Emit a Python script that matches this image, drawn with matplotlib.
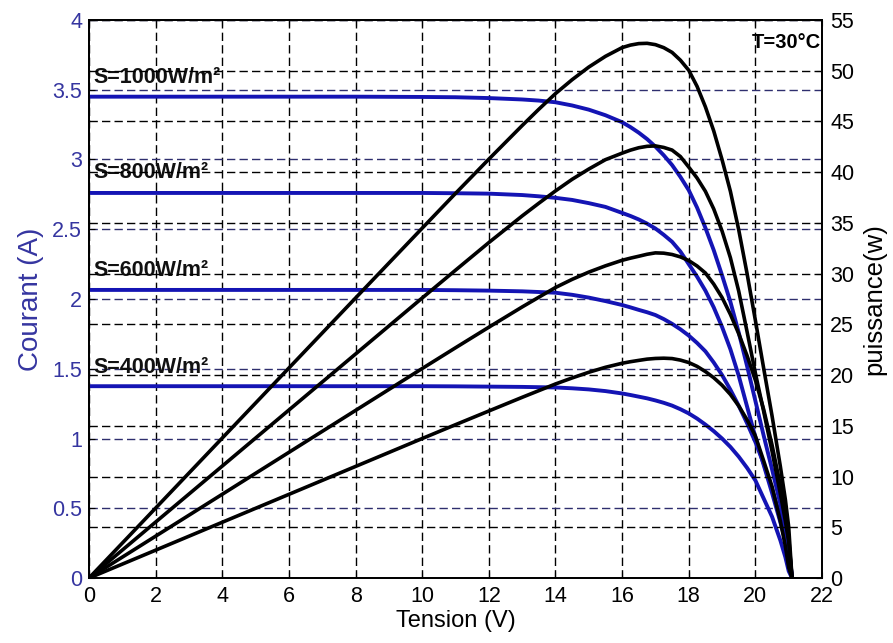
import numpy as np
import matplotlib
matplotlib.use("Agg")
import matplotlib.pyplot as plt

plt.rcParams['font.family'] = ['Liberation Sans', 'DejaVu Sans']

# tension (V), common to every curve
tension = [0, 2, 4, 6, 8, 10, 11, 12, 13, 13.5, 14, 14.5, 15, 15.5, 16,
           16.25, 16.5, 16.75, 17, 17.25, 17.5, 17.75, 18, 18.25, 18.5, 18.75,
           19, 19.25, 19.5, 19.75, 20, 20.25, 20.5, 20.75, 20.9, 21, 21.1]

# courant (A) for each irradiance
i_1000 = [3.45, 3.45, 3.45, 3.45, 3.45, 3.448, 3.446, 3.44, 3.43, 3.422, 3.41,
          3.387, 3.357, 3.317, 3.267,
          3.232, 3.192, 3.146, 3.092, 3.03, 2.96, 2.875, 2.78, 2.655, 2.51,
          2.35, 2.17, 1.98, 1.76, 1.52, 1.27, 1.02, 0.78, 0.53, 0.37, 0.24, 0.0]
i_800 = [2.76, 2.76, 2.76, 2.76, 2.76, 2.76, 2.758, 2.755, 2.745, 2.736, 2.725,
         2.71, 2.687, 2.66, 2.617,
         2.595, 2.57, 2.54, 2.505, 2.46, 2.41, 2.34, 2.25, 2.16, 2.06, 1.94,
         1.80, 1.64, 1.45, 1.23, 1.01, 0.81, 0.61, 0.40, 0.27, 0.17, 0.0]
i_600 = [2.065, 2.065, 2.065, 2.065, 2.065, 2.065, 2.063, 2.06, 2.055, 2.05,
         2.045, 2.03, 2.01, 1.985, 1.957,
         1.94, 1.922, 1.905, 1.885, 1.856, 1.822, 1.783, 1.738, 1.685, 1.625,
         1.545, 1.455, 1.35, 1.235, 1.11, 0.975, 0.82, 0.64, 0.44, 0.30, 0.19,
         0.0]
i_400 = [1.375, 1.375, 1.375, 1.375, 1.375, 1.375, 1.374, 1.372, 1.37, 1.368,
         1.366, 1.36, 1.352, 1.34, 1.323,
         1.312, 1.30, 1.288, 1.273, 1.256, 1.236, 1.21, 1.18, 1.143, 1.10,
         1.053, 1.0, 0.94, 0.87, 0.79, 0.70, 0.57, 0.44, 0.27, 0.15, 0.05, 0.0]

courants = [i_1000, i_800, i_600, i_400]
etiquettes = ['S=1000W/m²', 'S=800W/m²', 'S=600W/m²', 'S=400W/m²']
etiq_y = [3.59, 2.91, 2.205, 1.51]

x_ticks = list(range(0, 23, 2))
i_ticks = [0, 0.5, 1, 1.5, 2, 2.5, 3, 3.5, 4]
i_labels = ['0', '0.5', '1', '1.5', '2', '2.5', '3', '3.5', '4']
p_ticks = list(range(0, 56, 5))

bleu = '#1414b4'
bleu_txt = '#3535a0'
grille_bleue = '#2e2e6e'

fig = plt.figure(figsize=(8.93, 6.43), dpi=100)
ax = fig.add_axes([0.0997, 0.101, 0.8208, 0.868])
ax2 = ax.twinx()

V = np.array(tension)
for cour in courants:
    I = np.array(cour)
    ax.plot(V, I, color=bleu, lw=2.8, solid_joinstyle='round')
    ax2.plot(V, V * I, color='black', lw=2.6, solid_joinstyle='round')

for lab, yy in zip(etiquettes, etiq_y):
    ax.text(0.12, yy, lab, fontsize=15.5, fontweight='bold', color='#111111',
            va='center', ha='left')
ax2.text(0.998, 0.977, 'T=30°C', transform=ax2.transAxes, fontsize=14.5,
         fontweight='bold', ha='right', va='top')

ax.set_xlim(0, 22)
ax.set_ylim(0, 4)
ax2.set_ylim(0, 55)
ax.set_xticks(x_ticks)
ax.set_yticks(i_ticks)
ax.set_yticklabels(i_labels)
ax2.set_yticks(p_ticks)

ax.grid(True, axis='x', color='black', ls=(0, (6, 3)), lw=1.0)
ax.grid(True, axis='y', color=grille_bleue, ls=(0, (6, 3)), lw=1.0)
ax2.grid(True, axis='y', color='black', ls=(0, (6, 3)), lw=1.0)
ax.set_axisbelow(True)

ax.tick_params(axis='x', direction='in', length=4, labelsize=15.5, pad=6,
               top=True)
ax.tick_params(axis='y', direction='in', length=4, labelsize=15.5, pad=5,
               colors=bleu_txt)
ax2.tick_params(axis='y', direction='in', length=4, labelsize=15.5, pad=6)
ax.tick_params(axis='y', color='black')

for a in (ax, ax2):
    for s in a.spines.values():
        s.set_linewidth(1.3)
        s.set_color('black')

ax.set_xlabel('Tension (V)', fontsize=17, labelpad=2)
ax.set_ylabel('Courant (A)', fontsize=20, color=bleu_txt, labelpad=6)
ax2.set_ylabel('puissance(w)', fontsize=18.5, labelpad=6)

fig.savefig('out.png', dpi=100)
